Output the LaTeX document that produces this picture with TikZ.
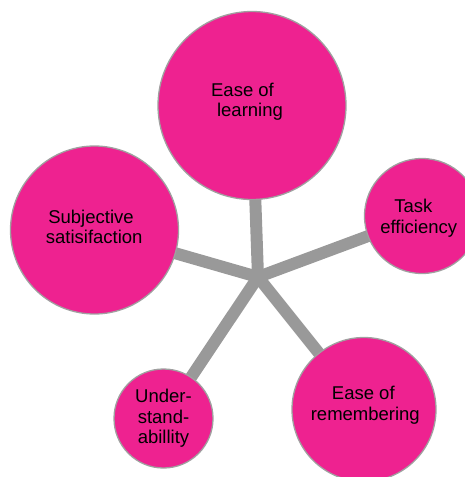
\documentclass[tikz,border=0pt]{standalone}
\usepackage{fontspec}
\setmainfont{Liberation Sans}
\definecolor{pinkfill}{HTML}{EE2290}
\definecolor{rimgray}{HTML}{A0A0A0}
\definecolor{spokegray}{HTML}{999999}
\begin{document}
\begin{tikzpicture}[x=1pt,y=-1pt,
  bubble/.style={circle,fill=pinkfill,draw=rimgray,line width=1.3pt,inner sep=0pt},
  spoke/.style={draw=spokegray,line width=12pt,line cap=round},
  label/.style={inner sep=0pt,align=center,text=black,font=\fontsize{18.5}{20.3}\selectfont}]
\useasboundingbox (0,0) rectangle (465,477);
\coordinate (hub) at (258,277);
\coordinate (clearn) at (252,105.5);
\coordinate (csubj) at (94.5,230);
\coordinate (ctask) at (422,216);
\coordinate (cremem) at (364,409.5);
\coordinate (cunder) at (163.5,418.5);
\foreach \c in {clearn,csubj,ctask,cremem,cunder}
  \draw[spoke] (hub) -- (\c);
\node[bubble,minimum size=188pt] (learn) at (clearn) {};
\node[bubble,minimum size=168pt] (subj) at (csubj) {};
\node[bubble,minimum size=115pt] (task) at (ctask) {};
\node[bubble,minimum size=144pt] (remem) at (cremem) {};
\node[bubble,minimum size=99pt] (under) at (cunder) {};
\node[label] (tlearn) at (250,101.5) {Ease of\rule{15pt}{0pt}\\learning};
\node[label] (tsubj) at (94.2,227) {Subjective\rule{6.4pt}{0pt}\\satisifaction};
\node[label] (ttask) at (418.7,218.3) {Task\rule{10.8pt}{0pt}\\efficiency};
\node[label] (tremem) at (365.3,405.2) {Ease of\rule{4pt}{0pt}\\remembering};
\node[label] (tunder) at (163.5,418.3) {Under-\\stand-\\abillity};
\end{tikzpicture}
\end{document}
